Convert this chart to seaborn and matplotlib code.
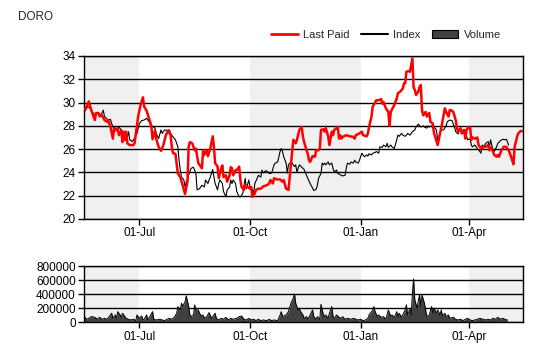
import matplotlib
matplotlib.use("Agg")
import matplotlib.pyplot as plt
import matplotlib.dates as mdates
from matplotlib.patches import Patch
from matplotlib.lines import Line2D
from matplotlib.ticker import FuncFormatter
import seaborn as sns
import pandas as pd

# daily series, day offsets counted from the first date
start = pd.Timestamp("2013-05-16")
end = start + pd.Timedelta(days=365)

last_days = [1, 4, 6, 9, 10, 12, 13, 15, 17, 19, 20, 22, 24, 25, 26, 28, 29, 31, 32, 33,
             34, 35, 36, 38, 41, 42, 45, 47, 49, 50, 52, 54, 56, 57, 59, 60, 62, 64, 66, 68,
             70, 72, 73, 74, 76, 78, 80, 82, 84, 86, 87, 88, 90, 92, 93, 95, 98, 99, 100, 102,
             103, 105, 107, 108, 109, 111, 112, 114, 115, 116, 118, 119, 121, 122, 123, 124, 126, 127, 129, 130,
             131, 133, 134, 136, 138, 139, 140, 142, 143, 145, 147, 149, 152, 154, 155, 157, 158, 160, 162, 163,
             165, 166, 168, 170, 172, 173, 174, 176, 177, 179, 181, 182, 183, 185, 186, 187, 188, 190, 192, 193,
             195, 196, 197, 199, 200, 201, 203, 204, 206, 207, 208, 210, 211, 212, 213, 214, 215, 218, 221, 224,
             225, 226, 229, 231, 232, 235, 236, 237, 239, 240, 242, 243, 245, 247, 248, 249, 251, 253, 254, 255,
             256, 258, 260, 261, 263, 265, 266, 267, 268, 270, 271, 273, 274, 275, 276, 278, 279, 280, 281, 282,
             284, 285, 287, 288, 290, 291, 292, 294, 296, 297, 298, 300, 301, 303, 304, 305, 307, 309, 310, 311,
             313, 314, 316, 317, 318, 320, 321, 322, 323, 325, 327, 328, 329, 331, 333, 334, 336, 337, 338, 340,
             341, 343, 344, 345, 347, 349, 351, 353, 354, 356, 357, 358, 360, 361, 363, 365]
last_paid = [29.4, 30.1, 29.35, 28.5, 29.1, 29.1, 28.8, 28.9, 28.5, 28.35, 28.5, 27.9, 26.9, 27.8, 27.6, 27.8, 27.2, 27.6, 26.6, 27.5,
             26.8, 27.5, 26.5, 26.35, 26.35, 26.5, 28.8, 29.8, 30.45, 29.65, 29.3, 28.65, 27.9, 26.85, 27.6, 26.9, 26.2, 25.85, 26.35, 27.2,
             27.6, 27.2, 26.2, 25.65, 25.6, 23.9, 23.6, 22.9, 22.15, 23.2, 26.2, 26.6, 26.5, 25.9, 26.05, 24.8, 24.35, 25.9, 25.5, 25.9,
             25.4, 26.05, 27.1, 26.2, 24.8, 24.5, 23.5, 24.35, 24.6, 23.6, 23.75, 23.2, 23.75, 24.45, 24.35, 23.75, 24.2, 24.2, 24.5, 23.35,
             22.75, 22.5, 22.9, 22.75, 22.6, 22.75, 21.9, 22.2, 22.5, 22.6, 22.6, 22.8, 22.9, 23.05, 23.35, 23.05, 23.5, 23.4, 23.4, 23.4,
             23.2, 23.35, 22.6, 22.5, 24.65, 25.8, 26.8, 26.5, 26.8, 27.65, 27.9, 27.05, 26.6, 25.9, 25.6, 25.05, 24.9, 25.4, 25.35, 25.9,
             25.9, 26.05, 27.65, 27.7, 27.5, 27.8, 27.1, 26.35, 27.5, 27.2, 27.65, 27.8, 27.9, 26.9, 27.2, 26.9, 27.05, 27.2, 27.1, 27.05,
             26.9, 27.2, 27.35, 27.5, 27.2, 27.1, 27.35, 27.9, 28.8, 29.65, 30.0, 30.2, 30.2, 30.3, 29.9, 30.05, 29.5, 29.2, 28.0, 29.2,
             29.4, 29.8, 30.35, 30.8, 30.95, 31.2, 31.65, 31.65, 32.65, 32.7, 32.65, 33.8, 31.3, 31.1, 30.65, 30.95, 31.35, 31.5, 29.35, 28.9,
             29.2, 28.8, 29.1, 28.35, 28.2, 27.35, 27.05, 26.35, 27.35, 27.8, 28.35, 29.5, 29.2, 28.8, 29.35, 29.35, 29.2, 28.5, 27.8, 27.5,
             27.8, 27.35, 27.65, 26.9, 27.65, 27.9, 27.85, 26.8, 27.0, 26.9, 27.0, 26.35, 26.2, 26.05, 26.25, 26.2, 26.35, 25.9, 26.15, 25.8,
             25.5, 25.35, 25.5, 25.35, 25.9, 26.2, 26.2, 25.9, 25.65, 25.05, 24.7, 26.2, 27.05, 27.35, 27.55, 27.55]

index_days = [1, 3, 5, 7, 9, 11, 13, 15, 16, 17, 20, 22, 23, 24, 26, 28, 29, 31, 33, 34,
              36, 37, 38, 40, 41, 42, 44, 46, 48, 50, 52, 54, 55, 56, 59, 60, 62, 64, 65, 67,
              69, 71, 72, 74, 76, 78, 79, 80, 81, 83, 84, 85, 86, 87, 89, 91, 93, 94, 96, 98,
              100, 101, 103, 104, 105, 107, 108, 109, 111, 112, 113, 115, 116, 118, 119, 121, 122, 123, 124, 126,
              127, 129, 130, 132, 133, 134, 135, 137, 138, 140, 141, 142, 144, 145, 147, 148, 149, 151, 153, 154,
              156, 158, 159, 161, 163, 164, 165, 166, 168, 169, 170, 172, 173, 175, 176, 177, 179, 181, 183, 185,
              186, 188, 190, 191, 193, 194, 195, 197, 198, 199, 200, 201, 203, 204, 206, 207, 208, 210, 211, 212,
              214, 215, 217, 218, 219, 221, 222, 224, 225, 226, 228, 229, 231, 232, 233, 235, 236, 237, 239, 240,
              242, 243, 245, 246, 248, 249, 251, 252, 253, 255, 256, 258, 260, 261, 262, 264, 265, 267, 268, 269,
              271, 272, 273, 275, 276, 278, 279, 280, 282, 283, 285, 286, 287, 289, 290, 291, 293, 294, 295, 296,
              297, 299, 301, 302, 304, 306, 307, 308, 309, 311, 312, 314, 315, 316, 318, 319, 321, 322, 323, 325,
              326, 327, 329, 330, 331, 332, 333, 334, 336, 337, 338, 339, 340, 341, 343, 344, 346, 348, 350, 351,
              352, 353]
index_vals = [29.3, 29.65, 29.5, 29.2, 28.9, 29.1, 28.9, 29.1, 29.35, 28.8, 28.5, 28.55, 28.2, 27.9, 27.8, 27.65, 27.9, 27.65, 27.35, 27.2,
              27.05, 27.5, 26.8, 26.65, 26.8, 26.9, 27.35, 28.2, 28.45, 28.5, 28.65, 28.35, 28.5, 28.05, 27.8, 27.35, 26.9, 27.65, 27.35, 27.65,
              27.6, 27.65, 27.35, 27.05, 26.8, 26.2, 25.05, 24.2, 23.6, 23.35, 22.75, 23.2, 23.35, 23.8, 24.35, 24.45, 23.9, 22.5, 22.6, 22.9,
              22.75, 23.35, 23.05, 23.35, 23.6, 24.25, 23.6, 23.05, 22.5, 23.05, 23.35, 23.05, 22.35, 21.9, 22.5, 22.75, 23.35, 23.05, 23.35, 23.05,
              22.35, 21.9, 21.9, 22.2, 22.9, 23.5, 22.6, 23.35, 22.75, 22.5, 22.2, 23.05, 23.5, 23.75, 23.6, 24.2, 23.95, 24.15, 24.05, 23.9,
              23.95, 24.65, 24.8, 24.9, 25.8, 26.05, 25.8, 25.35, 24.8, 23.95, 24.65, 24.9, 24.8, 24.5, 24.65, 24.05, 24.65, 24.45, 24.25, 23.75,
              23.5, 23.05, 22.65, 22.45, 22.55, 22.9, 23.5, 23.9, 24.8, 24.65, 24.8, 24.65, 24.9, 24.65, 24.8, 24.35, 24.05, 24.2, 23.9, 23.85,
              23.75, 23.7, 23.75, 24.35, 24.8, 24.7, 24.9, 24.8, 25.05, 24.9, 24.8, 25.05, 25.65, 25.5, 25.35, 25.5, 25.4, 25.6, 25.5, 25.65,
              25.7, 25.8, 25.65, 26.2, 26.15, 26.35, 26.2, 26.5, 26.15, 26.35, 26.2, 26.05, 26.8, 27.2, 27.1, 27.35, 27.2, 27.1, 27.2, 27.35,
              27.2, 27.35, 27.5, 27.65, 27.9, 28.15, 28.0, 27.9, 28.0, 27.9, 27.8, 28.0, 27.9, 28.0, 27.8, 27.9, 27.65, 26.8, 27.0, 27.5,
              27.65, 27.65, 28.0, 28.35, 28.5, 28.45, 28.15, 27.9, 27.5, 27.3, 27.65, 27.7, 27.35, 27.4, 27.1, 26.8, 26.9, 26.35, 26.2, 26.35,
              26.2, 26.05, 25.8, 25.65, 26.35, 26.2, 26.35, 26.5, 26.65, 26.15, 26.8, 26.35, 25.9, 25.8, 26.2, 26.5, 26.7, 26.85, 26.8, 26.85,
              26.65, 26.35]

volume_days = [0, 2, 4, 6, 9, 11, 13, 15, 17, 19, 21, 23, 24, 26, 27, 28, 30, 31, 32, 34,
               35, 37, 39, 41, 43, 44, 46, 48, 49, 50, 52, 53, 55, 57, 58, 60, 63, 65, 67, 69,
               71, 73, 75, 77, 78, 80, 81, 82, 84, 85, 87, 88, 89, 91, 92, 93, 95, 96, 98, 99,
               100, 102, 104, 106, 107, 109, 110, 112, 114, 116, 118, 120, 122, 124, 127, 129, 131, 133, 135, 137,
               139, 141, 143, 145, 147, 149, 152, 154, 156, 158, 161, 163, 164, 165, 168, 170, 172, 174, 175, 176,
               178, 179, 181, 182, 183, 185, 186, 188, 190, 191, 193, 194, 196, 197, 199, 200, 201, 203, 204, 206,
               207, 208, 210, 212, 214, 215, 217, 219, 222, 224, 226, 228, 230, 232, 234, 236, 237, 240, 241, 242,
               244, 245, 247, 249, 251, 253, 255, 256, 258, 260, 261, 262, 264, 265, 267, 268, 269, 271, 272, 273,
               274, 275, 277, 278, 279, 280, 281, 283, 284, 285, 287, 289, 290, 291, 293, 294, 296, 297, 298, 300,
               301, 303, 304, 307, 309, 311, 313, 315, 317, 319, 321, 323, 325, 327, 329, 332, 334, 336, 338, 340,
               342, 344, 346, 348, 350, 352]
volume = [90, 43, 57, 81, 71, 43, 71, 43, 57, 43, 81, 129, 57, 105, 57, 152, 105, 71, 129, 81,
          57, 43, 33, 43, 24, 105, 57, 90, 33, 43, 105, 33, 90, 152, 43, 33, 43, 33, 24, 43,
          57, 43, 71, 129, 224, 176, 271, 224, 295, 376, 224, 105, 81, 105, 248, 176, 176, 129, 81, 105,
          57, 81, 138, 57, 81, 129, 57, 33, 57, 43, 71, 33, 57, 43, 57, 81, 90, 43, 33, 57,
          33, 43, 24, 43, 24, 33, 24, 43, 24, 33, 24, 105, 152, 81, 105, 152, 271, 343, 400, 271,
          176, 186, 129, 105, 57, 81, 43, 105, 176, 81, 43, 81, 43, 257, 105, 81, 105, 57, 129, 224,
          81, 57, 105, 71, 57, 81, 43, 57, 43, 57, 43, 33, 43, 24, 33, 57, 105, 176, 224, 152,
          81, 105, 71, 81, 43, 176, 81, 105, 71, 152, 81, 129, 71, 105, 176, 248, 105, 200, 105, 414,
          614, 319, 200, 319, 390, 224, 390, 271, 176, 81, 105, 224, 129, 200, 129, 176, 105, 176, 90, 129,
          81, 105, 57, 71, 43, 33, 43, 24, 43, 57, 33, 24, 33, 43, 57, 43, 33, 43, 33, 57,
          43, 71, 43, 57, 43, 33]

last_dates = start + pd.to_timedelta(last_days, unit="D")
index_dates = start + pd.to_timedelta(index_days, unit="D")
volume_dates = start + pd.to_timedelta(volume_days, unit="D")
volume_units = [v * 1000 for v in volume]

shaded = [(start, pd.Timestamp("2013-07-01")),
          (pd.Timestamp("2013-10-01"), pd.Timestamp("2014-01-01")),
          (pd.Timestamp("2014-04-01"), end)]

sns.set_style("white")
plt.rcParams["font.family"] = ["Liberation Sans", "DejaVu Sans"]
plt.rcParams["font.size"] = 8.5

fig = plt.figure(figsize=(5.4, 3.6), dpi=100)
ax = fig.add_axes([0.1556, 0.3917, 0.813, 0.4528])
axv = fig.add_axes([0.1556, 0.1047, 0.813, 0.1564])

for a in (ax, axv):
    for s0, s1 in shaded:
        a.axvspan(s0, s1, color="#f0f0f0", lw=0, zorder=0)
    a.set_xlim(start, end)
    a.xaxis.set_major_locator(mdates.MonthLocator(bymonth=[1, 4, 7, 10]))
    a.xaxis.set_major_formatter(mdates.DateFormatter("%d-%b"))
    a.yaxis.grid(True, color="black", lw=1)
    a.set_axisbelow(True)
    for sp in a.spines.values():
        sp.set_color("black")
        sp.set_linewidth(1)
    a.tick_params(axis="both", direction="out", length=4, width=1, color="black",
                  labelcolor="black", left=True, bottom=True, pad=2)

sns.lineplot(x=index_dates, y=index_vals, ax=ax, color="black", lw=0.8, zorder=3)
sns.lineplot(x=last_dates, y=last_paid, ax=ax, color="#ff0000", lw=1.8, zorder=4)
ax.set_ylim(20, 34)
ax.set_yticks(range(20, 35, 2))
ax.set_xlabel("")
ax.set_ylabel("")

axv.fill_between(volume_dates, volume_units, 0, color="#404040", lw=0, zorder=2)
sns.lineplot(x=volume_dates, y=volume_units, ax=axv, color="black", lw=0.7, zorder=3)
axv.set_ylim(0, 800000)
axv.set_yticks(range(0, 800001, 200000))
axv.yaxis.set_major_formatter(FuncFormatter(lambda v, p: f"{int(v)}"))
axv.set_xlabel("")
axv.set_ylabel("")

fig.text(0.033, 0.953, "DORO", fontsize=8.5, va="center", ha="left")

handles = [Line2D([], [], color="#ff0000", lw=2),
           Line2D([], [], color="black", lw=1.5),
           Patch(facecolor="#404040", edgecolor="black", lw=0.8)]
fig.legend(handles, ["Last Paid", "Index", "Volume"], loc="center",
           bbox_to_anchor=(0.715, 0.903), ncol=3, frameon=False, fontsize=8,
           handlelength=2.4, handletextpad=0.5, columnspacing=1.0)

fig.savefig("out.png", dpi=100)
